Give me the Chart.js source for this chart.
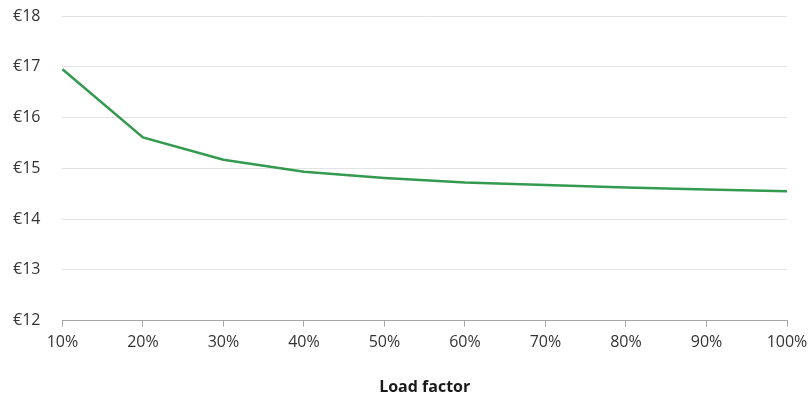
<!DOCTYPE html>
<html>
<head>
<meta charset="utf-8">
<script src="https://cdn.jsdelivr.net/npm/chart.js@4/dist/chart.umd.min.js"></script>
<style>
  html, body { margin: 0; padding: 0; background: #fff; }
  #wrap { width: 812px; height: 396px; position: relative; }
</style>
</head>
<body>
<div id="wrap"><canvas id="c"></canvas></div>
<script>
const categories = ["10%", "20%", "30%", "40%", "50%", "60%", "70%", "80%", "90%", "100%"];
const costValues = [16.95, 15.61, 15.17, 14.93, 14.81, 14.72, 14.67, 14.62, 14.58, 14.55];
const yMin = 12;
const yMax = 18;
const xTitle = "Load factor";

const FONT = "'Open Sans', 'Noto Sans', sans-serif";

new Chart(document.getElementById('c'), {
  type: 'line',
  data: {
    labels: categories,
    datasets: [{
      data: costValues,
      borderColor: '#339a4f',
      borderWidth: 2.5,
      pointRadius: 0,
      tension: 0,
      fill: false
    }]
  },
  options: {
    responsive: true,
    maintainAspectRatio: false,
    animation: false,
    layout: { padding: { left: -9, right: 0, top: 0, bottom: -1 } },
    plugins: { legend: { display: false }, tooltip: { enabled: false } },
    scales: {
      x: {
        offset: false,
        afterFit: s => { s.paddingRight = 25; },
        grid: { display: true, drawOnChartArea: false, drawTicks: true, tickLength: 6, color: '#a6a6a6', lineWidth: 1 },
        border: { display: true, color: '#a6a6a6', width: 1 },
        ticks: { color: '#333333', font: { family: FONT, size: 16 }, padding: 6, maxRotation: 0, autoSkip: false },
        title: { display: true, text: xTitle, color: '#1a1a1a', font: { family: FONT, size: 16, weight: 'bold' }, padding: { top: 20, bottom: 0 } }
      },
      y: {
        min: yMin,
        max: yMax,
        afterFit: s => { s.paddingTop = 16; s.paddingBottom = 10; },
        grid: { color: '#e3e3e3', lineWidth: 1, drawTicks: false },
        border: { display: false },
        ticks: {
          stepSize: 1,
          color: '#333333',
          font: { family: FONT, size: 16 },
          padding: 22,
          callback: v => '€' + v
        }
      }
    }
  }
});
</script>
</body>
</html>
